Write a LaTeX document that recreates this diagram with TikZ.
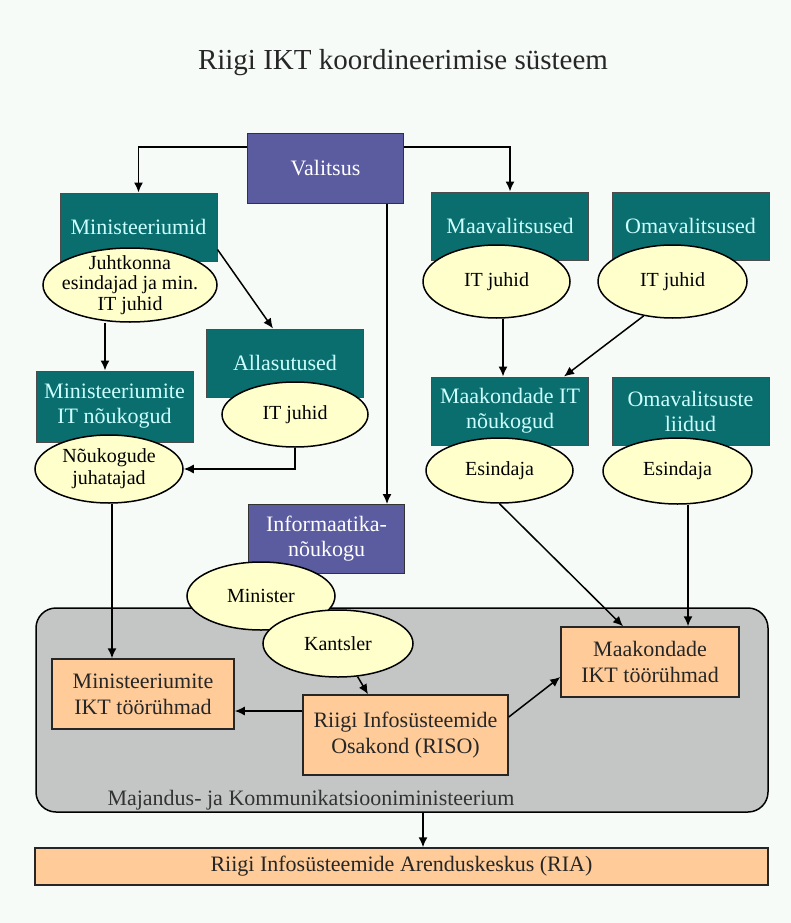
\documentclass[tikz,border=0pt]{standalone}
\usepackage{fontspec}
\setmainfont{Liberation Serif}
\usetikzlibrary{shapes.geometric,arrows.meta}

\definecolor{bgwhite}{HTML}{F7FBF8}
\definecolor{valitsusblue}{HTML}{5B5BA0}
\definecolor{tealgreen}{HTML}{0A6E6E}
\definecolor{tealtext}{HTML}{CCFFFF}
\definecolor{ovalyellow}{HTML}{FFFFCC}
\definecolor{peach}{HTML}{FFCC99}
\definecolor{mkmgray}{HTML}{C4C6C6}

\begin{document}
\begin{tikzpicture}[x=1pt,y=-1pt,
	purplebox/.style={draw=black!80, line width=1pt, fill=valitsusblue, text=white, minimum width=156pt, minimum height=69pt, align=center, font=\fontsize{22}{25}\selectfont},
	tealbox/.style={draw=black!70, line width=1pt, fill=tealgreen, text=tealtext, minimum width=157pt, minimum height=68pt, align=center, font=\fontsize{22}{25}\selectfont},
	oval/.style={ellipse, draw, line width=1.5pt, fill=ovalyellow, inner sep=0pt, align=center, font=\fontsize{20}{22}\selectfont},
	peachbox/.style={draw=black!85, line width=1.5pt, fill=peach, text=black!85, align=center, font=\fontsize{22}{26}\selectfont},
	arr/.style={-{Latex[length=10pt,width=9pt]}, line width=1.5pt}]
	\useasboundingbox[fill=bgwhite] (0,0) rectangle (791,923);

	\node[font=\fontsize{29}{32}\selectfont, text=black!85] (title) at (403,63) {Riigi IKT koordineerimise süsteem};

	% ministeerium
	\node[draw, line width=1.5pt, fill=mkmgray, rounded corners=20pt, minimum width=732pt, minimum height=204pt] (mkm) at (402,710) {};
	\node[font=\fontsize{22}{25}\selectfont, text=black!80] (mkmlabel) at (311,800) {Majandus- ja Kommunikatsiooniministeerium};

	\node[purplebox] (valitsus) at (325.5,168.5) {Valitsus};
	\node[tealbox] (minid) at (138.5,227) {Ministeeriumid};
	\node[tealbox] (maav) at (510,226) {Maavalitsused};
	\node[tealbox] (omav) at (690.5,226) {Omavalitsused};
	\node[tealbox] (alla) at (285,363) {Allasutused};
	\node[tealbox, minimum height=71pt] (minit) at (114.5,406.5) {Ministeeriumite\\IT nõukogud};
	\node[tealbox] (mkit) at (510,411) {Maakondade IT\\nõukogud};
	\node[tealbox] (olii) at (690.5,411.5) {Omavalitsuste\\liidud};
	\node[purplebox] (inf) at (326.5,539) {Informaatika-\\nõukogu};

	\node[peachbox, minimum width=182pt, minimum height=70pt] (minikt) at (143,694) {Ministeeriumite\\IKT töörühmad};
	\node[peachbox, minimum width=205pt, minimum height=80pt] (riso) at (405.5,735) {Riigi Infosüsteemide\\Osakond (RISO)};
	\node[peachbox, minimum width=178pt, minimum height=70pt] (mkikt) at (650,662) {Maakondade\\IKT töörühmad};
	\node[peachbox, minimum width=733pt, minimum height=37pt] (ria) at (401.5,866.5) {Riigi Infosüsteemide Arenduskeskus (RIA)};

	% ellipsid
	\node[oval, minimum width=174pt, minimum height=74pt, inner sep=-12pt, font=\fontsize{20}{20.5}\selectfont] (juht) at (130,285) {Juhtkonna\\esindajad ja min.\\IT juhid};
	\node[oval, minimum width=147pt, minimum height=73pt] (maavit) at (496.5,281.5) {IT juhid};
	\node[oval, minimum width=149pt, minimum height=73pt] (omavit) at (672.5,281.5) {IT juhid};
	\node[oval, minimum width=146pt, minimum height=65pt] (allait) at (295,414.5) {IT juhid};
	\node[oval, minimum width=148pt, minimum height=68pt] (noukj) at (109,469) {Nõukogude\\juhatajad};
	\node[oval, minimum width=147pt, minimum height=65pt] (mkes) at (499.5,470.5) {Esindaja};
	\node[oval, minimum width=149pt, minimum height=66pt] (oles) at (677.5,471) {Esindaja};
	\node[oval, minimum width=148pt, minimum height=68pt] (minister) at (261,596) {Minister};
	\node[oval, minimum width=150pt, minimum height=67pt] (kantsler) at (338,643.5) {Kantsler};

	\draw[arr] ([yshift=21.5pt]valitsus.west) -| (minid.north);
	\draw[arr] ([yshift=21.5pt]valitsus.east) -| (maav.north);
	\draw[arr] ([xshift=61.5pt]valitsus.south) -- ([xshift=60.5pt]inf.north);
	\draw[arr] ([yshift=12pt]minid.south east) -- ([xshift=-12pt]alla.north);
	\draw[arr] ([xshift=-25pt]juht.south) -- ([xshift=-9.5pt]minit.north);
	\draw[arr] (allait.south) |- (noukj.east);
	\draw[arr] ([xshift=3pt]noukj.south) -- ([xshift=-31pt]minikt.north);
	\draw[arr] ([xshift=6.5pt]maavit.south) -- ([xshift=-7pt]mkit.north);
	\draw[arr] (omavit.230) -- ([xshift=-25pt]mkit.north east);
	\draw[arr] (mkes.south) -- ([xshift=-27pt]mkikt.north);
	\draw[arr] ([xshift=10.5pt]oles.south) -- ([xshift=38pt]mkikt.north);
	\draw[arr] (kantsler) -- ([xshift=-37.5pt]riso.north);
	\draw[arr] ([yshift=24pt]riso.west) -- ([yshift=-17pt]minikt.east);
	\draw[arr] ([yshift=18pt]riso.east) -- ([yshift=-15pt]mkikt.west);
	\draw[arr] ([xshift=21pt]mkm.south) -- ([xshift=21.5pt]ria.north);
\end{tikzpicture}
\end{document}
